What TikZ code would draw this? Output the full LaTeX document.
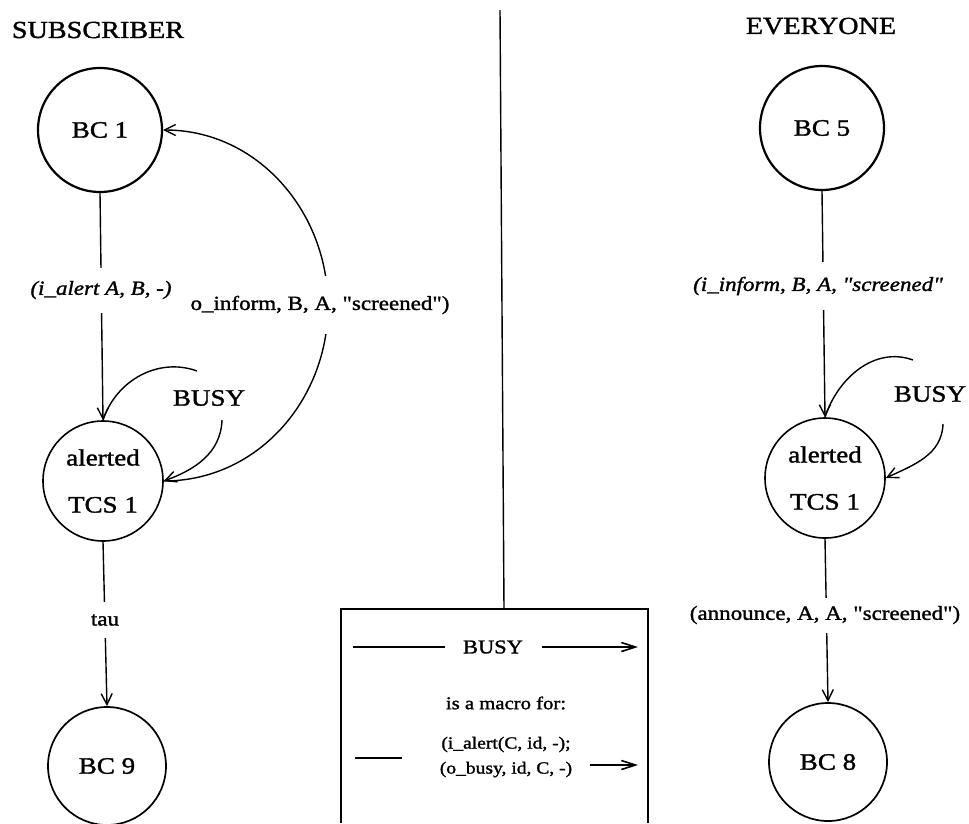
\documentclass[tikz,border=0pt]{standalone}
\usepackage{fontspec}
\setmainfont{Liberation Serif}[FakeStretch=1.15, FakeBold=1.4, Ligatures=TeXOff]
\usetikzlibrary{arrows.meta}
\begin{document}
\begin{tikzpicture}[x=1pt,y=-1pt,
  title/.style={font=\fontsize{24.5}{28}\selectfont},
  big/.style={font=\fontsize{23.5}{27}\selectfont},
  bcstate/.style={circle, draw, line width=2.2pt, minimum size=124pt, inner sep=0pt, font=\fontsize{23.5}{27}\selectfont},
  tcsstate/.style={circle, draw, line width=1.6pt, minimum size=120pt, inner sep=0pt, align=center, font=\fontsize{23.5}{47}\selectfont},
  edge/.style={line width=1.4pt},
  arr/.style={edge, -{Straight Barb[length=11pt,width=11pt]}},
  boxarr/.style={line width=1.6pt, -{Straight Barb[length=14pt,width=9pt]}},
  lab/.style={fill=white, inner xsep=2pt, inner ysep=0pt, font=\fontsize{20}{24}\selectfont},
  ilab/.style={lab, font=\fontsize{20}{24}\selectfont\itshape},
  boxtxt/.style={font=\fontsize{18}{26}\selectfont, align=center}
]
\useasboundingbox (0,0) rectangle (969,823);

% titles
\node[title] (tsub) at (98,30) {SUBSCRIBER};
\node[title] (tevery) at (821,26) {EVERYONE};

% left states
\node[bcstate] (bc1) at (100,130) {BC 1};
\node[tcsstate] (tcsL) at (103,481) {alerted\\TCS 1};
\node[bcstate, line width=1.7pt, minimum size=118pt] (bc9) at (107,766) {BC 9};

% left transitions
\draw[arr] (bc1.south) -- (tcsL.north);
\node[ilab, minimum height=45pt] (lialert) at (101,290) {(i\_alert A, B, -)};

\draw[arr] (tcsL.south) -- (bc9.north);
\node[lab, minimum height=36pt] (ltau) at (105,620) {tau};

\coordinate (oi) at (328,306);
\draw[arr] (tcsL.east) to[out=0,in=-90] (oi) to[out=90,in=0] (bc1.east);
\node[lab, minimum height=58pt] (loinf) at (320,305) {o\_inform, B, A, "screened")};

\coordinate (bl1) at (197,371);
\coordinate (bl2) at (222,420);
\draw[edge] (tcsL.north) to[out=72,in=160] (bl1);
\node[big] (lbusyL) at (209,398) {BUSY};
\draw[arr] (bl2) to[out=-92,in=20] (tcsL.east);

% divider and macro box
\coordinate (dtop) at (500,10);
\coordinate (boxtop) at (504,609);
\draw[edge] (dtop) -- (boxtop);
\draw[line width=1.5pt] (341,823) |- (648,609) -- (648,823);

\node[font=\fontsize{19.5}{23}\selectfont] (mb) at (493,647) {BUSY};
\coordinate (m1a) at (353,647);
\coordinate (m1b) at (638,647);
\draw[line width=1.6pt] (m1a) -- (445,647);
\draw[boxarr] (542,647) -- (m1b);
\node[boxtxt] (mt) at (506,703) {is a macro for:};
\node[boxtxt, font=\fontsize{17}{25}\selectfont] (mm) at (506,757) {(i\_alert(C, id, -);\\(o\_busy, id, C, -)};
\coordinate (m2a) at (355,758);
\coordinate (m2b) at (402,758);
\draw[line width=1.6pt] (m2a) -- (m2b);
\coordinate (m3a) at (590,765);
\coordinate (m3b) at (638,765);
\draw[boxarr] (m3a) -- (m3b);

% right states
\node[bcstate] (bc5) at (822,128) {BC 5};
\node[tcsstate] (tcsR) at (825,478) {alerted\\TCS 1};
\node[bcstate, line width=1.7pt, minimum size=118pt] (bc8) at (828,762) {BC 8};

\draw[arr] (bc5.south) -- (tcsR.north);
\node[ilab, minimum height=48pt] (liinf) at (818,286) {(i\_inform, B, A, "screened"};

\draw[arr] (tcsR.south) -- (bc8.north);
\node[lab, minimum height=35pt] (lann) at (825,615) {(announce, A, A, "screened")};

\coordinate (br1) at (913,360);
\coordinate (br2) at (943,424);
\draw[edge] (tcsR.north) to[out=72,in=160] (br1);
\node[big] (lbusyR) at (930,394) {BUSY};
\draw[arr] (br2) to[out=-92,in=25] (tcsR.east);
\end{tikzpicture}
\end{document}
